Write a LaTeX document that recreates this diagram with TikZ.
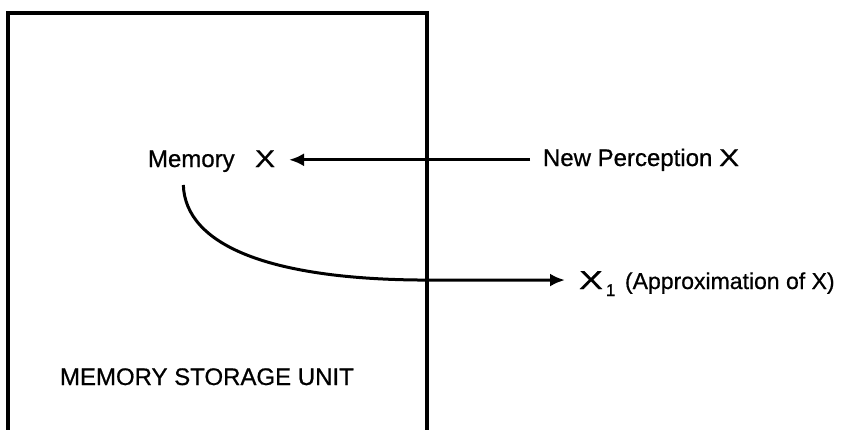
\documentclass[tikz,border=0pt]{standalone}
\usepackage{fontspec}
\usepackage{graphicx}
\setmainfont{Liberation Sans}[FakeBold=0.7]
\usetikzlibrary{arrows.meta,calc}
\begin{document}
\begin{tikzpicture}[x=1pt,y=-1pt,
  lbl/.style={inner sep=0pt,outer sep=0pt,anchor=base west,font=\fontsize{24}{28}\selectfont},
  arr/.style={line width=3pt,-{Latex[length=15pt,width=13pt]}},
  frame/.style={line width=3.8pt}]
\useasboundingbox (0,0) rectangle (846,429);
% storage unit frame (open at the bottom of the picture)
\draw[frame] (8,432) -- (8,13) -- (427,13) -- (427,432);
% texts
\node[lbl] (mem) at (148,167) {Memory};
\node[lbl] (memx) at (255,167) {\scalebox{1.25}[1]{X}};
\node[lbl] (np) at (543,166) {New Perception \scalebox{1.25}[1]{X}};
\node[lbl,font=\fontsize{26}{30}\selectfont] (x1) at (579,289)
  {\scalebox{1.38}[1]{X}\kern3pt\smash{\raisebox{-7pt}{\fontsize{17}{20}\selectfont 1}}};
\node[lbl,font=\fontsize{23}{27}\selectfont] (apx) at (625,289) {(Approximation of X)};
\node[lbl] (msu) at (60,385) {MEMORY STORAGE UNIT};
% connectors
\draw[arr,shorten <=13pt,shorten >=14pt] (np.west) -- (np.west -| memx.east);
\draw[arr] ($(mem.south)+(-8,13)$) .. controls +(2,60) and +(-160,0) .. ($(x1.west)+(-150,0)$) -- ($(x1.west)+(-14,0)$);
\end{tikzpicture}
\end{document}
